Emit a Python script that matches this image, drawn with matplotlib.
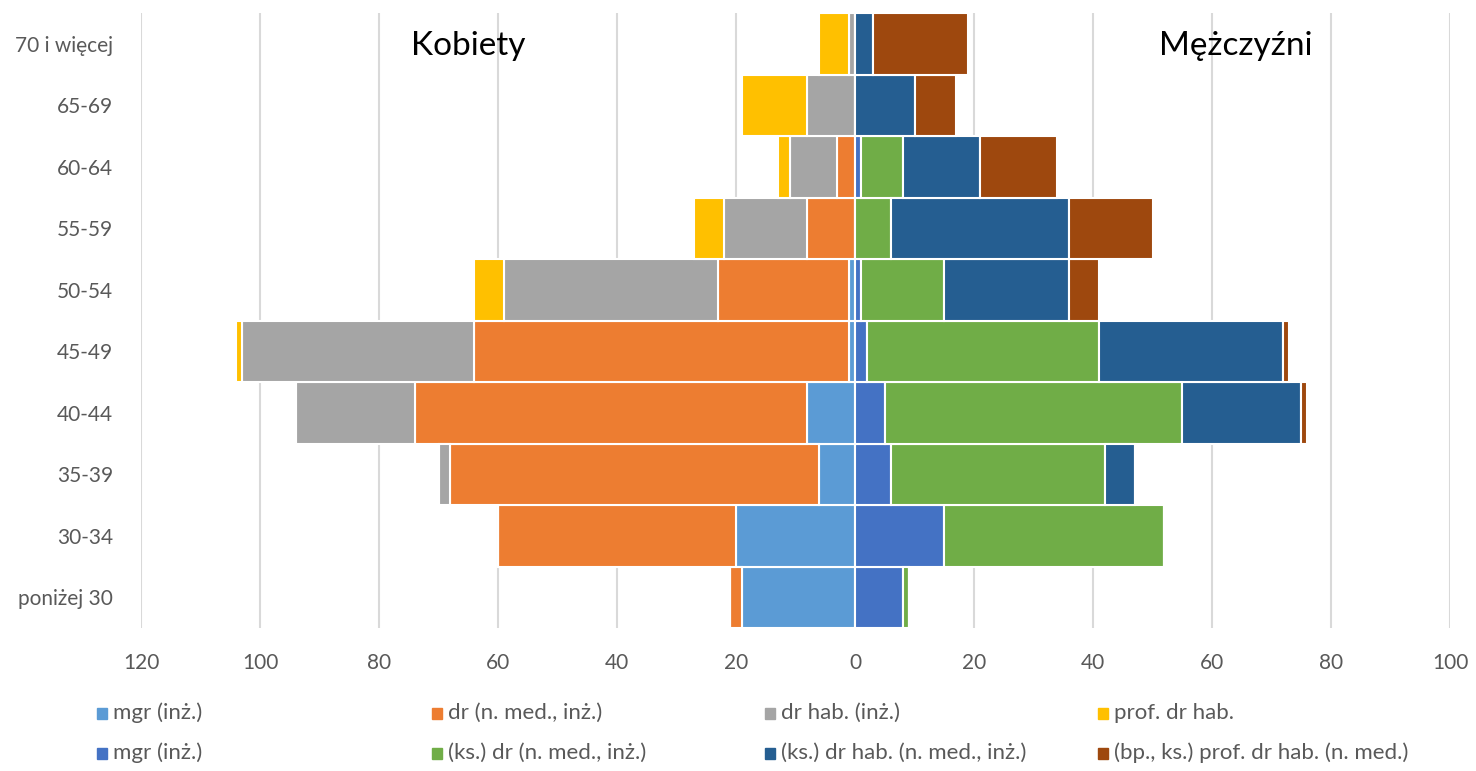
import matplotlib
matplotlib.use("Agg")
import matplotlib.pyplot as plt
from matplotlib.patches import Rectangle
import numpy as np

plt.rcParams['font.family'] = ['Lato', 'DejaVu Sans']

# grupy wieku (od dołu)
grupy = ['poniżej 30', '30-34', '35-39', '40-44', '45-49', '50-54',
         '55-59', '60-64', '65-69', '70 i więcej']

# kobiety
k_mgr = [19, 20, 6, 8, 1, 1, 0, 0, 0, 0]
k_dr = [2, 40, 62, 66, 63, 22, 8, 3, 0, 0]
k_drhab = [0, 0, 2, 20, 39, 36, 14, 8, 8, 1]
k_prof = [0, 0, 0, 0, 1, 5, 5, 2, 11, 5]

# mężczyźni
m_mgr = [8, 15, 6, 5, 2, 1, 0, 1, 0, 0]
m_dr = [1, 37, 36, 50, 39, 14, 6, 7, 0, 0]
m_drhab = [0, 0, 5, 20, 31, 21, 30, 13, 10, 3]
m_prof = [0, 0, 0, 1, 1, 5, 14, 13, 7, 16]

etykiety = ['mgr (inż.)', 'dr (n. med., inż.)', 'dr hab. (inż.)', 'prof. dr hab.',
            'mgr (inż.)', '(ks.) dr (n. med., inż.)', '(ks.) dr hab. (n. med., inż.)',
            '(bp., ks.) prof. dr hab. (n. med.)']
kolory = ['#5B9BD5', '#ED7D31', '#A5A5A5', '#FFC000',
          '#4472C4', '#70AD47', '#255E91', '#9E480E']

fig = plt.figure(figsize=(14.76, 7.71), dpi=100)
ax = fig.add_axes([141 / 1476, 1 - 628 / 771, (1450 - 141) / 1476, (628 - 13) / 771])

y = np.arange(len(grupy))
szary = '#595959'

# lewa strona - kobiety
lewo = np.zeros(len(grupy))
for i, seria in enumerate([k_mgr, k_dr, k_drhab, k_prof]):
    s = np.array(seria, dtype=float)
    ax.barh(y, -s, left=-lewo, height=1.0, color=kolory[i],
            edgecolor='white', linewidth=1.5, zorder=3)
    lewo += s

# prawa strona - mężczyźni
prawo = np.zeros(len(grupy))
for i, seria in enumerate([m_mgr, m_dr, m_drhab, m_prof]):
    s = np.array(seria, dtype=float)
    ax.barh(y, s, left=prawo, height=1.0, color=kolory[4 + i],
            edgecolor='white', linewidth=1.5, zorder=3)
    prawo += s

ax.set_xlim(-120, 100)
ax.set_ylim(-0.5, len(grupy) - 0.5)
ax.set_xticks(np.arange(-120, 101, 20))
ax.set_xticklabels([str(abs(v)) for v in range(-120, 101, 20)])
ax.set_yticks(y)
ax.set_yticklabels(grupy)
ax.tick_params(axis='both', length=0, labelsize=15, labelcolor=szary)
ax.tick_params(axis='x', pad=18)
ax.tick_params(axis='y', pad=20)
ax.grid(axis='x', color='#D9D9D9', linewidth=1.5, zorder=0)
for sp in ax.spines.values():
    sp.set_visible(False)

ax.text(-65, 8.97, 'Kobiety', fontsize=24, ha='center', va='center', zorder=5)
ax.text(64, 8.97, 'Mężczyźni', fontsize=24, ha='center', va='center', zorder=5)

# legenda - 2 wiersze po 4 pozycje
kol_x = [97, 432, 765, 1098]
wiersz_y = [713, 753]
for i, (lab, kol) in enumerate(zip(etykiety, kolory)):
    px = kol_x[i % 4] / 1476
    py = 1 - wiersz_y[i // 4] / 771
    fig.patches.append(Rectangle((px, py - 5.5 / 771), 10 / 1476, 11 / 771,
                                 transform=fig.transFigure, color=kol))
    fig.text(px + 16 / 1476, py, lab, fontsize=16, color=szary, va='center')

fig.savefig('out.png', dpi=100)
